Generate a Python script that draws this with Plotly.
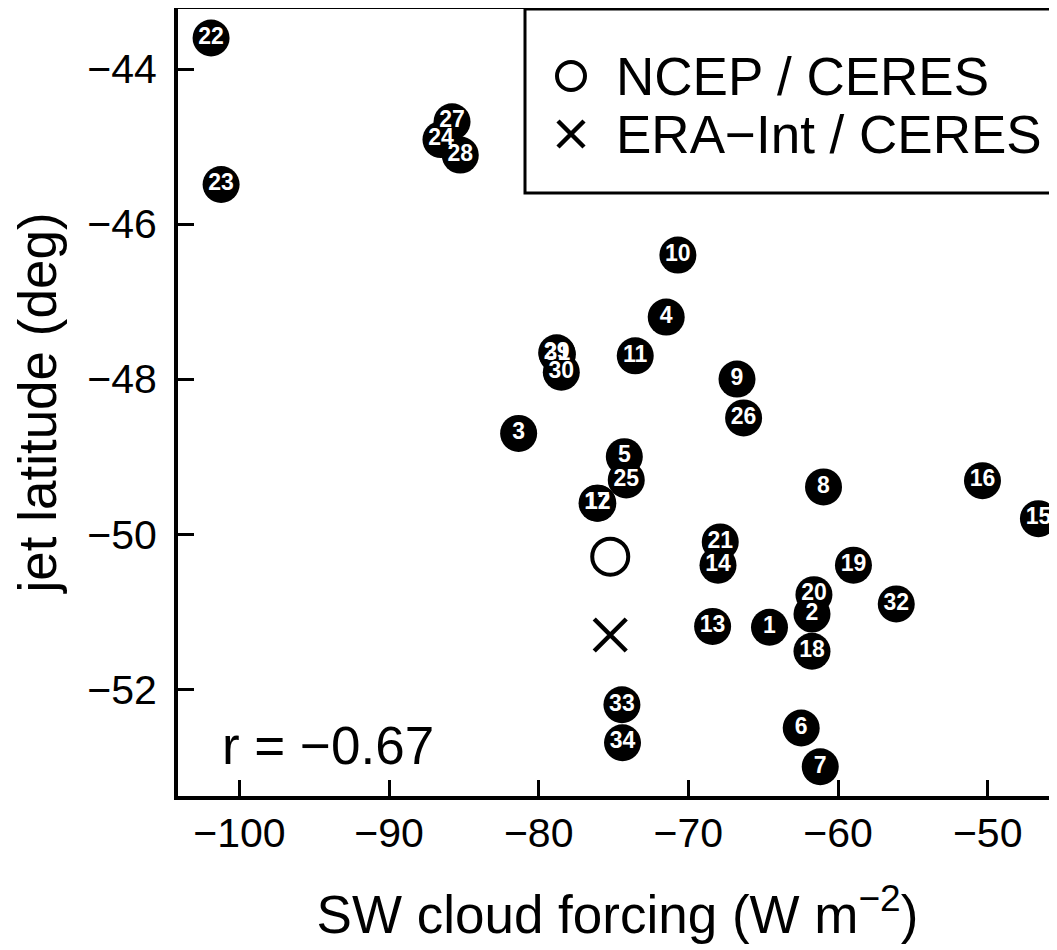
import plotly.graph_objects as go

# ---- data ----
model_ids = list(range(1, 35))
sw_cloud_forcing = [-64.58, -61.74, -81.34, -71.48, -74.28, -62.46, -61.19, -60.97, -66.75, -70.70,
                    -73.55, -76.05, -68.38, -68.02, -46.61, -50.35, -76.10, -61.74, -58.97, -61.61,
                    -67.87, -101.89, -101.22, -86.53, -74.15, -66.31, -85.79, -85.24, -78.80, -78.49,
                    -78.75, -56.11, -74.44, -74.40]
jet_latitude = [-51.20, -51.03, -48.70, -47.20, -49.00, -52.50, -53.00, -49.39, -48.00, -46.40,
                -47.70, -49.60, -51.19, -50.40, -49.80, -49.31, -49.60, -51.51, -50.40, -50.78,
                -50.10, -43.60, -45.49, -44.91, -49.30, -48.50, -44.68, -45.11, -47.66, -47.91,
                -47.68, -50.90, -52.20, -52.69]
ncep_x, ncep_y = [-75.22], [-50.29]
era_x, era_y = [-75.22], [-51.30]
x_ticks = [-100, -90, -80, -70, -60, -50]
y_ticks = [-44, -46, -48, -50, -52]
legend_labels = ["NCEP / CERES", "ERA\u2212Int / CERES"]
r_text = "r = \u22120.67"

FONT = "Liberation Sans, Arial, Helvetica, sans-serif"
BIG = 53

fig = go.Figure()

fig.add_trace(go.Scatter(
    x=sw_cloud_forcing, y=jet_latitude, mode="markers+text",
    text=[str(i) for i in model_ids], textposition="middle center",
    textfont=dict(color="white", size=23, family=FONT, weight="bold"),
    marker=dict(size=37, color="black", line=dict(width=0)),
    showlegend=False, hoverinfo="skip"))

fig.add_trace(go.Scatter(
    x=ncep_x, y=ncep_y, mode="markers", name=legend_labels[0],
    marker=dict(symbol="circle-open", size=36, color="black", line=dict(width=4, color="black")),
    showlegend=False))
fig.add_trace(go.Scatter(
    x=era_x, y=era_y, mode="markers", name=legend_labels[1],
    marker=dict(symbol="x-thin-open", size=32, color="black", line=dict(width=4.5, color="black")),
    showlegend=False))

# ---- geometry (page body has an 8px margin) ----
OFF = 8
W, H = 1057 - OFF, 950 - OFF
ML, MR, MT, MB = 178 - OFF, 0, 9 - OFF, 154
plot_w = W - ML - MR
plot_h = H - MT - MB
plot_left_v = ML + OFF          # viewport px of plot left
plot_bottom_v = H - MB + OFF    # viewport px of plot bottom
box_left_v, box_bottom_v = 525, 193
bx0 = (box_left_v - plot_left_v) / plot_w
by0 = (plot_bottom_v - box_bottom_v) / plot_h

# legend symbols on a hidden helper axis measured in viewport pixels
fig.add_trace(go.Scatter(
    x=[571], y=[76], xaxis="x2", yaxis="y2", mode="markers",
    marker=dict(symbol="circle-open", size=28, color="black", line=dict(width=4, color="black")),
    showlegend=False, hoverinfo="skip"))
fig.add_trace(go.Scatter(
    x=[571], y=[134], xaxis="x2", yaxis="y2", mode="markers",
    marker=dict(symbol="x-thin-open", size=26, color="black", line=dict(width=4.5, color="black")),
    showlegend=False, hoverinfo="skip"))

annotations = [
    dict(x=614, y=76, xref="x2", yref="y2", text=legend_labels[0], showarrow=False,
         xanchor="left", yanchor="middle", font=dict(size=BIG, family=FONT, color="black")),
    dict(x=614, y=134, xref="x2", yref="y2", text=legend_labels[1], showarrow=False,
         xanchor="left", yanchor="middle", font=dict(size=BIG, family=FONT, color="black")),
    dict(x=(220 - plot_left_v) / plot_w, y=(plot_bottom_v - 745) / plot_h, xref="paper", yref="paper",
         text=r_text, showarrow=False, xanchor="left", yanchor="middle",
         font=dict(size=BIG, family=FONT, color="black")),
]

shapes = [
    dict(type="rect", xref="paper", yref="paper", x0=bx0, x1=1.1, y0=by0, y1=1.0,
         line=dict(color="black", width=3), fillcolor="rgba(0,0,0,0)", layer="above"),
]

fig.update_layout(
    width=W, height=H,
    margin=dict(l=ML, r=MR, t=MT, b=MB, autoexpand=False),
    paper_bgcolor="white", plot_bgcolor="white",
    font=dict(family=FONT, color="black"),
    annotations=annotations, shapes=shapes,
    xaxis=dict(
        range=[-104.1, -45.37], showgrid=False, zeroline=False,
        showline=True, linecolor="black", linewidth=4, mirror=True,
        ticks="inside", ticklen=16, tickwidth=3, tickcolor="black",
        tickvals=x_ticks, ticktext=[f"\u2212{abs(v)}" for v in x_ticks],
        tickfont=dict(size=41, family=FONT), ticklabelstandoff=-2,
        title=dict(text="SW cloud forcing (W m<sup>\u22122</sup>)",
                   font=dict(size=BIG, family=FONT), standoff=42),
    ),
    yaxis=dict(
        range=[-53.377, -43.226], showgrid=False, zeroline=False,
        showline=True, linecolor="black", linewidth=4, mirror=False,
        ticks="inside", ticklen=16, tickwidth=3, tickcolor="black",
        tickvals=y_ticks, ticktext=[f"\u2212{abs(v)}" for v in y_ticks],
        tickfont=dict(size=41, family=FONT), ticklabelstandoff=9,
        title=dict(text="jet latitude (deg)", font=dict(size=BIG, family=FONT), standoff=17),
    ),
    xaxis2=dict(domain=[bx0, 1.0], range=[box_left_v, 1057], visible=False,
                anchor="y2", fixedrange=True),
    yaxis2=dict(domain=[by0, 1.0], range=[box_bottom_v, 9], visible=False,
                anchor="x2", fixedrange=True),
    showlegend=False,
)

fig.write_html("out.html")
